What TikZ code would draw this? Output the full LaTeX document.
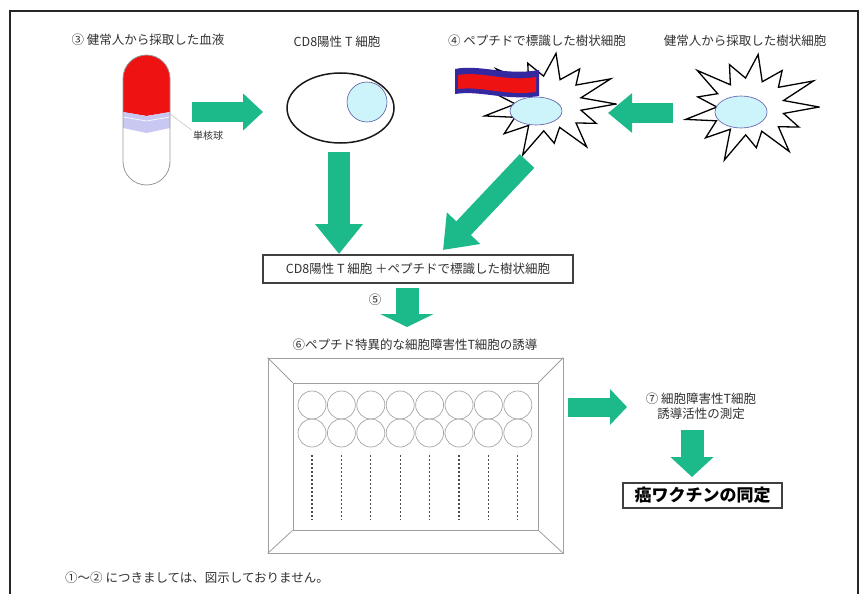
\documentclass[tikz,border=0pt]{standalone}
\usepackage{fontspec}
\setmainfont{Noto Sans CJK JP}
\usetikzlibrary{arrows.meta,shapes.geometric}

\definecolor{arrowgreen}{RGB}{28,186,138}
\definecolor{nucleus}{RGB}{205,244,250}
\definecolor{bloodred}{RGB}{238,18,18}
\definecolor{buffy}{RGB}{200,200,242}
\definecolor{peptideblue}{RGB}{52,40,160}
\definecolor{inktext}{RGB}{50,50,50}

\tikzset{
  caption/.style={font=\fontsize{12.5}{15}\selectfont, text=inktext, inner sep=1pt},
  smallcaption/.style={font=\fontsize{10}{12}\selectfont, text=inktext, inner sep=1pt},
  fatarrow/.style args={#1/#2/#3}{draw=arrowgreen, line width=#1,
    -{Triangle[length=#3, width=#2]}},
  frameline/.style={draw=black!85, line width=2pt},
  tubeline/.style={draw=gray!80, line width=0.8pt},
  cellline/.style={draw=black!90, line width=1.5pt},
  nucleusnode/.style={ellipse, draw=gray!70!blue, line width=0.6pt, fill=nucleus, inner sep=0},
  spikyline/.style={draw=black, fill=white, line width=1.3pt, line join=miter},
  boxed/.style={draw=black!75, line width=2.5pt, fill=white, inner sep=2pt},
  platewall/.style={draw=gray!75, line width=0.8pt},
  well/.style={circle, draw=gray!70, line width=0.7pt, minimum size=28pt, inner sep=0},
  welldots/.style={draw=gray!60!black, line width=1.1pt, dash pattern=on 1.5pt off 2.5pt},
}

% spiky outline of a dendritic cell: centre x, centre y, outer rx, outer ry
\newcommand{\spikycell}[4]{%
  \draw[spikyline] ({#1+#3*1.0},{#2})
    \foreach \k/\f/\g in {0/0.8/0.5, 1/1.0/0.55, 2/0.76/0.48, 3/1.05/0.52, 4/0.86/0.5,
                          5/0.96/0.55, 6/0.78/0.48, 7/1.02/0.53, 8/0.84/0.5, 9/0.98/0.54,
                          10/0.82/0.5, 11/1.04/0.55, 12/1.0/0.5} {
      -- ({#1+\g*#3*cos(\k*27.692+13.85)},{#2+\g*#4*sin(\k*27.692+13.85)})
      -- ({#1+\f*#3*cos((\k+1)*27.692)},{#2+\f*#4*sin((\k+1)*27.692)})
    } -- cycle;}

\begin{document}
\begin{tikzpicture}[x=1pt,y=-1pt]
\useasboundingbox (0,0) rectangle (864,594);
\fill[white] (0,0) rectangle (864,594);

% outer frame (open at the bottom)
\draw[frameline] (10,594) -- (10,11) -- (858,11) -- (858,594);

% ---- headings
\node[caption] (h3)  at (148,40) {③ 健常人から採取した血液};
\node[caption] (hcd) at (337,42) {CD8陽性 T 細胞};
\node[caption] (h4)  at (537,41) {④ ペプチドで標識した樹状細胞};
\node[caption] (hdc) at (745,41) {健常人から採取した樹状細胞};

% ---- blood tube
\node[minimum width=47pt, minimum height=130pt, inner sep=0] (tube) at (146.5,120) {};
\fill[white] (123,78.5) arc (180:360:23.5) -- (170,161.5) arc (0:180:23.5) -- cycle;
\fill[bloodred] (123,112) -- (123,78.5) arc (180:360:23.5) -- (170,112) -- (146.5,116) -- cycle;
\fill[buffy] (123,112) -- (146.5,116) -- (170,112) -- (170,128) -- (146.5,133) -- (123,128) -- cycle;
\draw[white!85!buffy, line width=0.8pt] (123,117) -- (146.5,121) -- (170,117);
\draw[tubeline] (123,78.5) arc (180:360:23.5) -- (170,161.5) arc (0:180:23.5) -- cycle;
\node[smallcaption] (mono) at (208,136) {単核球};
\draw[gray!50, line width=0.5pt] (170,114) -- (mono.north west);

% ---- CD8 T cell
\node[ellipse, cellline, minimum width=107pt, minimum height=70pt, inner sep=0] (cd8) at (340.5,108) {};
\node[nucleusnode, minimum width=40pt, minimum height=40pt] (cd8n) at (367,102) {};

% ---- dendritic cells
\node[minimum width=132pt, minimum height=100pt, inner sep=0] (dc1) at (548,104) {};
\spikycell{548}{104}{68}{52}
\node[nucleusnode, minimum width=52pt, minimum height=28pt] (dc1n) at (536,111) {};
\node[minimum width=134pt, minimum height=104pt, inner sep=0] (dc2) at (750,107) {};
\spikycell{750}{107}{69}{54}
\node[nucleusnode, minimum width=52pt, minimum height=32pt] (dc2n) at (741,112) {};

% peptide bound to the dendritic cell
\fill[peptideblue] (455,69) .. controls (480,64) and (505,76) .. (539,70)
  -- (539,96) .. controls (505,101) and (480,90) .. (455,94) -- cycle;
\fill[bloodred] (458,75) .. controls (482,71) and (506,82) .. (536,77)
  -- (536,92) .. controls (506,96) and (482,86) .. (458,89) -- cycle;

% ---- combined culture box
\node[boxed, caption, minimum width=310pt, minimum height=28pt] (cobox) at (418,269)
  {CD8陽性 T 細胞 ＋ペプチドで標識した樹状細胞};
\node[caption] (s5) at (375,300) {⑤};

% ---- plate
\node[caption] (h6) at (415,345) {⑥ペプチド特異的な細胞障害性T細胞の誘導};
\node[platewall, minimum width=295pt, minimum height=195pt, inner sep=0] (plate) at (415.5,455.5) {};
\node[platewall, minimum width=245pt, minimum height=147pt, inner sep=0] (tray) at (415.5,456.5) {};
\draw[platewall] (plate.north west) -- (tray.north west);
\draw[platewall] (plate.north east) -- (tray.north east);
\draw[platewall] (plate.south west) -- (tray.south west);
\draw[platewall] (plate.south east) -- (tray.south east);
\foreach \i in {0,...,7} {
  \node[well] (wa\i) at ({312+29.4*\i},405) {};
  \node[well] (wb\i) at ({312+29.4*\i},433) {};
  \coordinate (dt\i) at ({312+29.4*\i},455);
  \coordinate (db\i) at ({312+29.4*\i},520);
  \draw[welldots] (dt\i) -- (db\i);
}

% ---- measurement and result
\node[caption, align=center] (m7) at (701,406) {⑦ 細胞障害性T細胞\\誘導活性の測定};
\node[boxed, font=\fontsize{17}{20}\selectfont\bfseries, text=black, minimum width=159pt, minimum height=25pt, inner sep=1pt] (vax) at (702.5,495.5) {癌ワクチンの同定};

% ---- block arrows
\coordinate (a1s) at (192,112);  \coordinate (a1e) at (263,112);
\coordinate (a2s) at (673,113);  \coordinate (a2e) at (608,113);
\coordinate (a3s) at (339,152);  \coordinate (a3e) at (339,254);
\coordinate (a4s) at (527,161);  \coordinate (a4e) at (443,250);
\coordinate (a5s) at (407,288);  \coordinate (a5e) at (407,327);
\coordinate (a6s) at (568,407);  \coordinate (a6e) at (627,407);
\coordinate (a7s) at (692,430);  \coordinate (a7e) at (692,477);
\draw[fatarrow={20pt/36pt/20pt}] (a1s) -- (a1e);
\draw[fatarrow={20pt/38pt/24pt}] (a2s) -- (a2e);
\draw[fatarrow={22pt/46pt/30pt}] (a3s) -- (a3e);
\draw[fatarrow={20pt/44pt/30pt}] (a4s) -- (a4e);
\draw[fatarrow={23pt/53pt/13pt}] (a5s) -- (a5e);
\draw[fatarrow={19pt/35pt/17pt}] (a6s) -- (a6e);
\draw[fatarrow={23pt/42pt/20pt}] (a7s) -- (a7e);

% ---- footnote
\node[caption, anchor=west] (note) at (64,578) {①～② につきましては、図示しておりません。};
\end{tikzpicture}
\end{document}
